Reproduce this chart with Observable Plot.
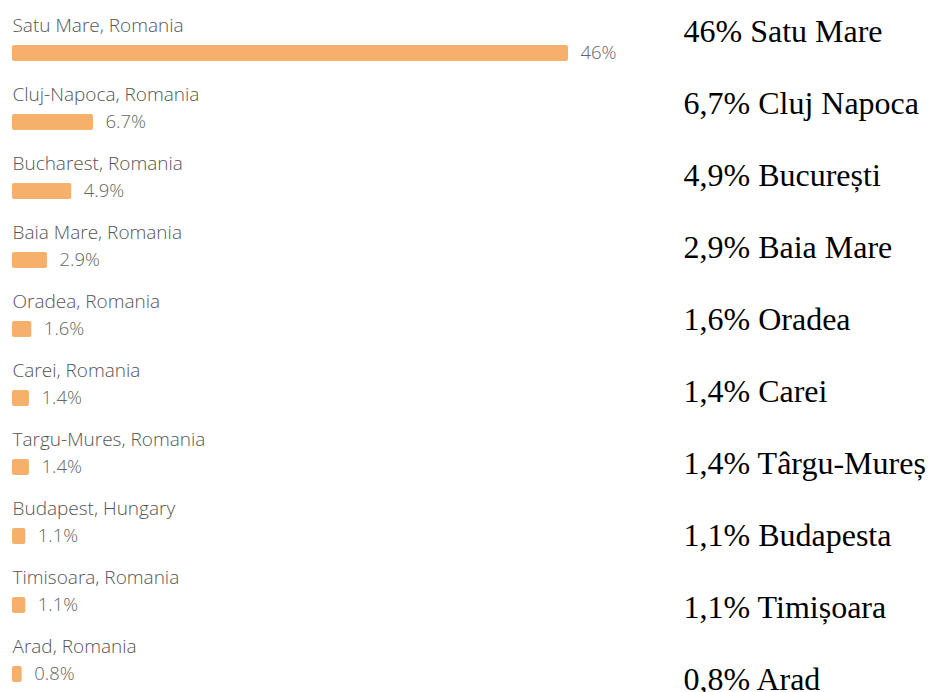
<!DOCTYPE html>
<html>
<head>
<meta charset="utf-8">
<script src="https://cdn.jsdelivr.net/npm/d3@7"></script>
<script src="https://cdn.jsdelivr.net/npm/@observablehq/plot@0.6"></script>
<style>
  html, body { margin: 0; padding: 0; background: #fff; }
  #wrap { position: relative; width: 929px; height: 692px; }
  #left { position: absolute; left: 0; top: 0; }
  #right { position: absolute; left: 660px; top: 0; }
</style>
</head>
<body>
<div id="wrap"><div id="left"></div><div id="right"></div></div>
<script>
// Left panel (analytics-style list)
const cities = ["Satu Mare, Romania", "Cluj-Napoca, Romania", "Bucharest, Romania", "Baia Mare, Romania",
  "Oradea, Romania", "Carei, Romania", "Targu-Mures, Romania", "Budapest, Hungary",
  "Timisoara, Romania", "Arad, Romania"];
const shares = [46, 6.7, 4.9, 2.9, 1.6, 1.4, 1.4, 1.1, 1.1, 0.8];
const shareLabels = ["46%", "6.7%", "4.9%", "2.9%", "1.6%", "1.4%", "1.4%", "1.1%", "1.1%", "0.8%"];

// Right panel (Romanian list)
const roNames = ["Satu Mare", "Cluj Napoca", "București", "Baia Mare", "Oradea", "Carei",
  "Târgu-Mureș", "Budapesta", "Timișoara", "Arad"];
const roShares = ["46%", "6,7%", "4,9%", "2,9%", "1,6%", "1,4%", "1,4%", "1,1%", "1,1%", "0,8%"];

const data = cities.map((c, i) => ({city: c, share: shares[i], label: shareLabels[i]}));
const roData = roNames.map((n, i) => ({idx: i, text: roShares[i] + " " + n}));

const left = Plot.plot({
  width: 660,
  height: 692,
  marginLeft: 12,
  marginRight: 92,
  marginTop: 43,
  marginBottom: 8,
  style: {fontFamily: "'Open Sans', sans-serif", background: "#fff"},
  x: {domain: [0, 46], axis: null},
  y: {domain: cities, axis: null, paddingInner: 0.77, paddingOuter: 0},
  marks: [
    Plot.barX(data, {x: "share", y: "city", fill: "#f5b06c", rx: 2}),
    Plot.text(data, {x: "share", y: "city", text: "label", textAnchor: "start", dx: 12,
      fill: "#666", fontSize: 18.5, fontWeight: 300}),
    Plot.text(data, {y: "city", frameAnchor: "left", text: "city", textAnchor: "start", dy: -28,
      fill: "#555", fontSize: 19, fontWeight: 300})
  ]
});
document.getElementById("left").appendChild(left);

const right = Plot.plot({
  width: 269,
  height: 692,
  marginLeft: 23,
  marginRight: 0,
  marginTop: 31,
  marginBottom: 13,
  style: {fontFamily: "'Liberation Serif', 'Times New Roman', serif", background: "#fff"},
  x: {axis: null},
  y: {type: "point", domain: d3.range(roNames.length), axis: null, padding: 0},
  marks: [
    Plot.text(roData, {y: "idx", frameAnchor: "left", text: "text", textAnchor: "start",
      fill: "#000", fontSize: 32})
  ]
});
document.getElementById("right").appendChild(right);
</script>
</body>
</html>
